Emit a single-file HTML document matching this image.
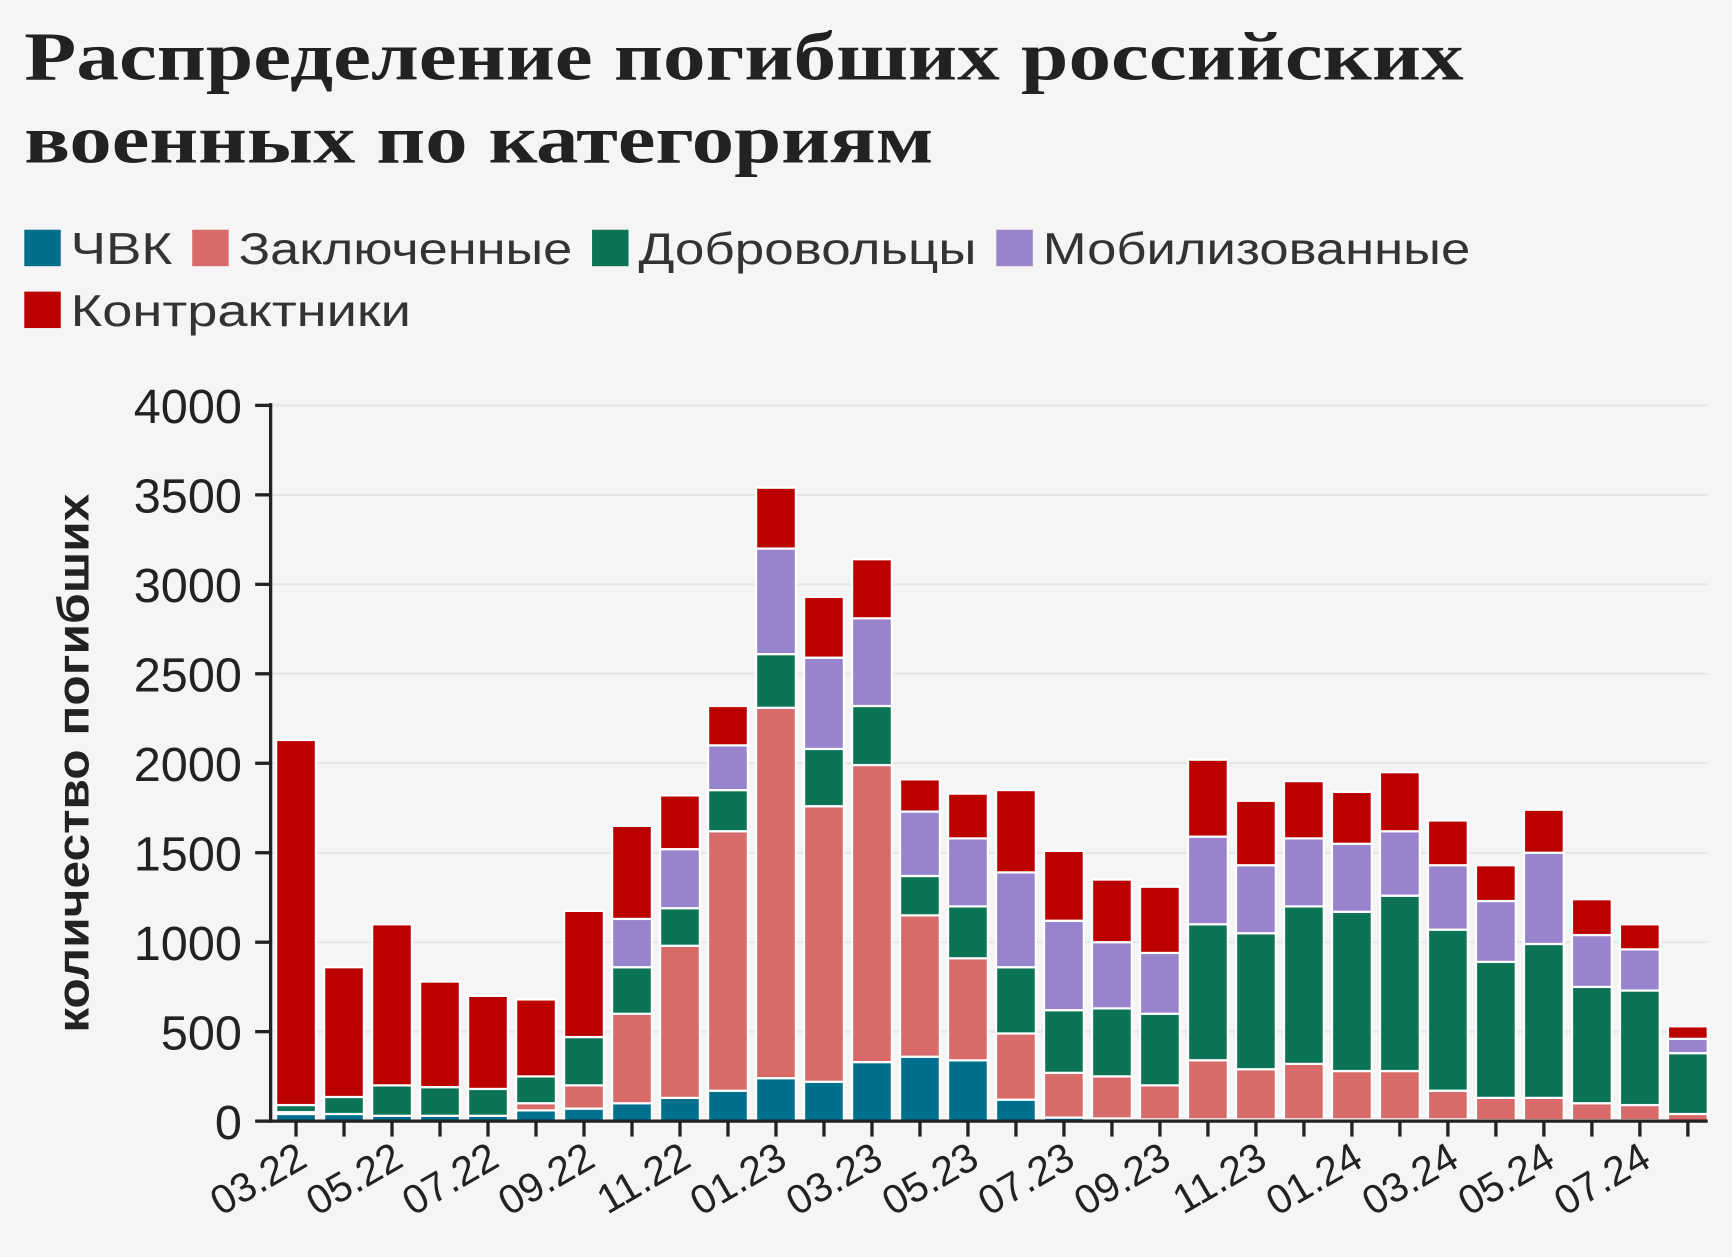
<!DOCTYPE html>
<html><head><meta charset="utf-8"><style>
html,body{margin:0;padding:0;background:#f5f5f5;}
svg{display:block;}
</style></head><body>
<svg width="1732" height="1257" viewBox="0 0 1568 1138" preserveAspectRatio="none" xmlns="http://www.w3.org/2000/svg">
<rect width="1568" height="1138" fill="#f5f5f5"/>
<g font-family="Liberation Serif, serif" font-weight="bold" fill="#222" font-size="62">
<text x="22" y="72" textLength="1303" lengthAdjust="spacingAndGlyphs">Распределение погибших российских</text>
<text x="22" y="147" textLength="823" lengthAdjust="spacingAndGlyphs">военных по категориям</text>
</g>
<g font-family="Liberation Sans, sans-serif" font-size="40" fill="#333">
<rect x="22" y="208" width="33" height="33" fill="#006f8e"/><text x="64" y="239" textLength="92" lengthAdjust="spacingAndGlyphs">ЧВК</text>
<rect x="174" y="208" width="33" height="33" fill="#d86a6a"/><text x="216" y="239" textLength="302" lengthAdjust="spacingAndGlyphs">Заключенные</text>
<rect x="536" y="208" width="33" height="33" fill="#0c7355"/><text x="578" y="239" textLength="306" lengthAdjust="spacingAndGlyphs">Добровольцы</text>
<rect x="902" y="208" width="33" height="33" fill="#9784cc"/><text x="944" y="239" textLength="387" lengthAdjust="spacingAndGlyphs">Мобилизованные</text>
<rect x="22" y="264" width="33" height="33" fill="#bb0000"/><text x="64" y="295" textLength="308" lengthAdjust="spacingAndGlyphs">Контрактники</text>
</g>
<text transform="translate(80,691) rotate(-90)" text-anchor="middle" font-family="Liberation Sans, sans-serif" font-weight="bold" font-size="40" fill="#222" textLength="488" lengthAdjust="spacingAndGlyphs">количество погибших</text>
<g id="grid" stroke="#e6e6e6" stroke-width="2"></g>
<g id="bars"></g>
<g id="axes" stroke="#222" stroke-width="3"></g>
<g id="ylab" font-family="Liberation Sans, sans-serif" font-size="44" fill="#222" text-anchor="end"></g>
<g id="xlab" font-family="Liberation Sans, sans-serif" font-size="37" fill="#222" text-anchor="end"></g>
</svg>
<script>
var NS="http://www.w3.org/2000/svg";
function el(p,t,a,txt){var e=document.createElementNS(NS,t);for(var k in a)e.setAttribute(k,a[k]);if(txt)e.textContent=txt;document.getElementById(p).appendChild(e);return e;}
var y0=1015,k=0.162,ax=245,x0=268,dx=43.45,bw=36;
for(var v=500;v<=4000;v+=500){var y=y0-v*k;el('grid','line',{x1:ax,x2:1546,y1:y,y2:y});}
for(var v=0;v<=4000;v+=500){var y=y0-v*k;el('axes','line',{x1:ax-14,x2:ax,y1:y,y2:y});el('ylab','text',{x:219,y:y+16},String(v));}
el('axes','line',{x1:ax,x2:ax,y1:365,y2:y0+1.5});
el('axes','line',{x1:ax,x2:1546,y1:y0,y2:y0});
var D=[[40,10,40,0,2040],[40,0,95,0,725],[30,0,170,0,900],[30,0,160,0,590],[30,0,150,0,520],[60,40,150,0,430],[70,130,270,0,705],[100,500,260,270,520],[130,850,210,330,300],[170,1450,230,250,220],[240,2070,300,590,340],[220,1540,320,510,340],[330,1660,330,490,330],[360,790,220,360,180],[340,570,290,380,250],[120,370,370,530,460],[20,250,350,500,390],[15,235,380,370,350],[10,190,400,340,370],[10,330,760,490,430],[10,280,760,380,360],[10,310,880,380,320],[10,270,890,380,290],[10,270,980,360,330],[10,160,900,360,250],[5,125,760,340,200],[5,125,860,510,240],[5,95,650,290,200],[5,85,640,230,140],[3,37,340,80,70]];
var C=["#006f8e","#d86a6a","#0c7355","#9784cc","#bb0000"];
var M=["03.22","05.22","07.22","09.22","11.22","01.23","03.23","05.23","07.23","09.23","11.23","01.24","03.24","05.24","07.24"];
D.forEach(function(d,i){var cx=x0+i*dx,cum=0;
 d.forEach(function(v,j){if(v<=0)return;var yb=y0-cum*k,yt=y0-(cum+v)*k;cum+=v;
  el('bars','rect',{x:cx-bw/2,y:yt,width:bw,height:yb-yt,fill:C[j],stroke:"#fff","stroke-width":2});});
 el('axes','line',{x1:cx,x2:cx,y1:y0,y2:y0+14});
 if(i%2==0){el('xlab','text',{transform:"translate("+(cx+12)+","+(y0+40)+") rotate(-30)"},M[i/2]);}
});
</script>
</body></html>
